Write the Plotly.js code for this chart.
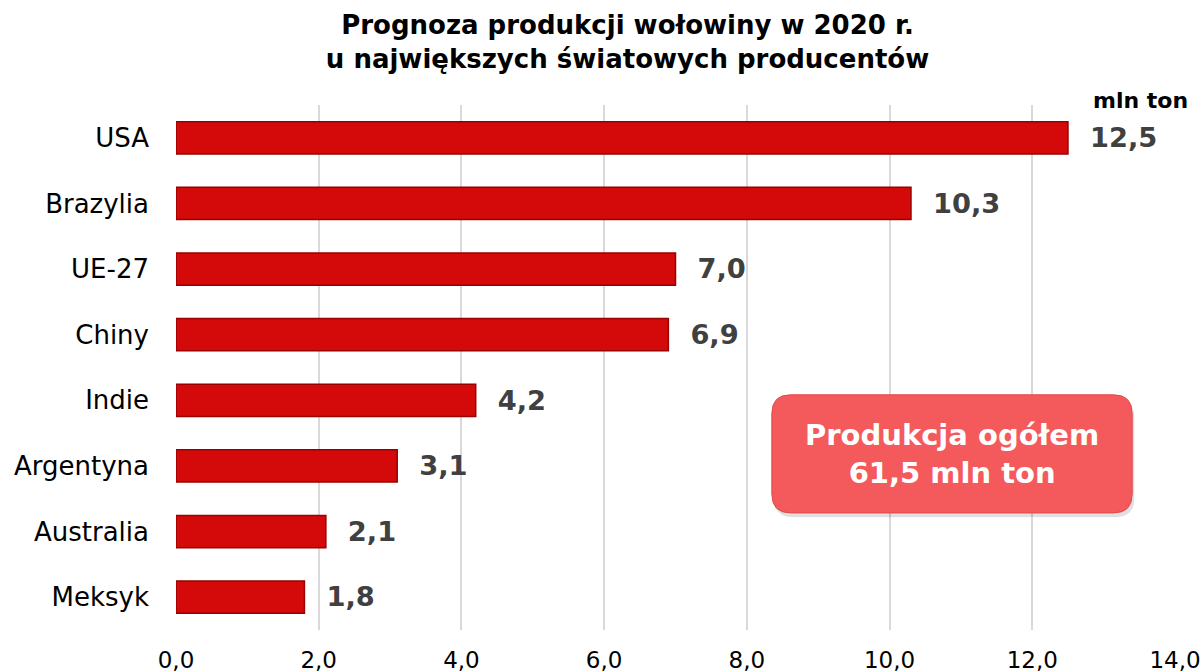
<!DOCTYPE html>
<html>
<head>
<meta charset="utf-8">
<script src="https://cdn.plot.ly/plotly-3.0.1.min.js"></script>
<style>html,body{margin:0;padding:0;background:#fff;}#chart{width:1203px;height:671px;}</style>
</head>
<body>
<div id="chart"></div>
<script>
const countries = ["USA", "Brazylia", "UE-27", "Chiny", "Indie", "Argentyna", "Australia", "Meksyk"];
const production = [12.5, 10.3, 7.0, 6.9, 4.2, 3.1, 2.1, 1.8];
const tickValues = [0, 2, 4, 6, 8, 10, 12, 14];
const titleText = "Prognoza produkcji wołowiny w 2020 r.<br>u największych światowych producentów";
const unitText = "mln ton";
const totalText = "Produkcja ogółem<br>61,5 mln ton";

const FONT = "DejaVu Sans, Verdana, sans-serif";

// rounded box (x in data units, y in paper units)
const bx0 = 8.35, bx1 = 13.40, by0 = 0.223, by1 = 0.448;
const rx = 0.26, ry = 0.036;
const boxPath = `M ${bx0+rx},${by1} L ${bx1-rx},${by1} Q ${bx1},${by1} ${bx1},${by1-ry} L ${bx1},${by0+ry} Q ${bx1},${by0} ${bx1-rx},${by0} L ${bx0+rx},${by0} Q ${bx0},${by0} ${bx0},${by0+ry} L ${bx0},${by1-ry} Q ${bx0},${by1} ${bx0+rx},${by1} Z`;
const shadowPath = boxPath.replace(/(\d+\.?\d*),(\d+\.?\d*)/g, (m,a,b)=>`${(+a+0.03).toFixed(4)},${(+b-0.008).toFixed(4)}`);

const trace = {
  type: "bar",
  orientation: "h",
  y: countries,
  x: production,
  width: 0.49,
  marker: { color: "#d40a0a", line: { color: "#9a0000", width: 1.5 } },
  texttemplate: "\u00a0\u00a0%{x:.1f}",
  textposition: "outside",
  cliponaxis: false,
  textfont: { family: FONT, size: 28, color: "#404040", weight: "bold" },
  hoverinfo: "none"
};

const layout = {
  width: 1203, height: 671,
  margin: { l: 176, r: 28, t: 105, b: 41 },
  paper_bgcolor: "#ffffff",
  plot_bgcolor: "#ffffff",
  separators: ",.",
  showlegend: false,
  bargap: 0.51,
  font: { family: FONT, color: "#000" },
  title: {
    text: titleText,
    font: { family: FONT, size: 26, color: "#000", weight: "bold" },
    xref: "paper", x: 0.452, xanchor: "center",
    yref: "container", y: 1 - 34 / 671, yanchor: "middle"
  },
  xaxis: {
    range: [0, 14],
    tickvals: tickValues,
    tickformat: ".1f",
    showgrid: true,
    gridcolor: "#d9d9d9",
    gridwidth: 2,
    zeroline: false,
    showline: false,
    ticks: "",
    ticklabelstandoff: 14,
    tickfont: { family: FONT, size: 23, color: "#000" },
    fixedrange: true
  },
  yaxis: {
    autorange: "reversed",
    showgrid: false,
    zeroline: false,
    showline: false,
    ticks: "",
    ticklabelstandoff: 26,
    tickfont: { family: FONT, size: 26, color: "#000" },
    fixedrange: true
  },
  shapes: [
    { type: "path", xref: "x", yref: "paper", path: shadowPath, fillcolor: "rgba(0,0,0,0.12)", line: { width: 0 }, layer: "above" },
    { type: "path", xref: "x", yref: "paper", path: boxPath, fillcolor: "#f45a5c", line: { color: "#e04848", width: 1 }, layer: "above" }
  ],
  annotations: [
    {
      text: unitText, xref: "paper", yref: "paper", x: 1.015, y: 1.0, xanchor: "right", yanchor: "bottom",
      yshift: -10, showarrow: false,
      font: { family: FONT, size: 22, color: "#000", weight: "bold" }
    },
    {
      text: totalText, xref: "x", yref: "paper", x: (bx0 + bx1) / 2, y: (by0 + by1) / 2,
      xanchor: "center", yanchor: "middle", showarrow: false,
      font: { family: FONT, size: 29, color: "#ffffff", weight: "bold" }
    }
  ]
};

Plotly.newPlot("chart", [trace], layout, { displayModeBar: false, staticPlot: true });
</script>
</body>
</html>
